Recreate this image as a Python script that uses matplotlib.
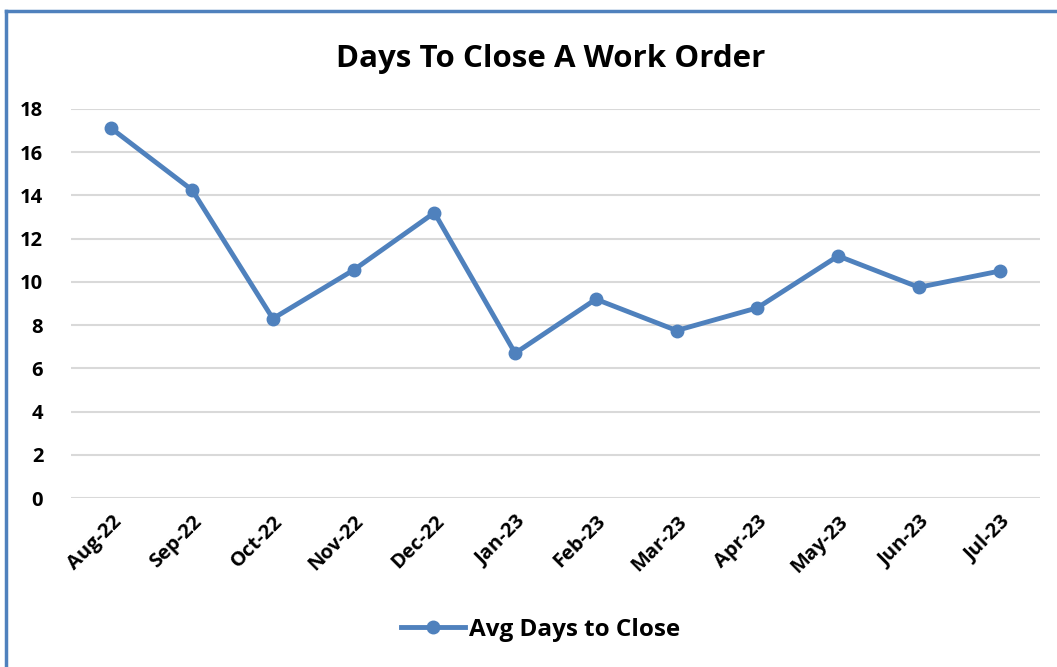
#!/usr/bin/env python

import matplotlib
matplotlib.use("Agg")
import matplotlib.pyplot as plt
from matplotlib.lines import Line2D

months = ['Aug-22', 'Sep-22', 'Oct-22', 'Nov-22', 'Dec-22', 'Jan-23',
          'Feb-23', 'Mar-23', 'Apr-23', 'May-23', 'Jun-23', 'Jul-23']
avg_days = [17.1, 14.25, 8.3, 10.55, 13.2, 6.7, 9.2, 7.75, 8.8, 11.2, 9.75, 10.5]
y_ticks = [0, 2, 4, 6, 8, 10, 12, 14, 16, 18]

plt.rcParams['font.family'] = ['Open Sans', 'DejaVu Sans']
plt.rcParams['font.weight'] = 'bold'

blue = '#4f81bd'
W, H = 1057, 667
fig = plt.figure(figsize=(W / 100.0, H / 100.0), dpi=100)
ax = fig.add_axes([71.0 / W, 1 - 498.0 / H, (1040.0 - 71) / W, (498.0 - 109) / H])

x = list(range(len(months)))
ax.plot(x, avg_days, '-o', color=blue, lw=3.5, ms=9, label='Avg Days to Close')

ax.set_xlim(-0.5, len(months) - 0.5)
ax.set_ylim(0, 18)
ax.set_yticks(y_ticks)
ax.set_xticks(x)
ax.set_xticklabels(months, rotation=45, ha='right', rotation_mode='anchor', fontsize=14.5, fontweight='bold')
ax.tick_params(axis='y', labelsize=14.5, length=0, pad=20)
ax.tick_params(axis='x', length=0, pad=10)
for t in ax.get_yticklabels():
    t.set_fontweight('bold')
ax.grid(True, axis='y', color='#d9d9d9', lw=1.5)
ax.set_axisbelow(True)
for s in ax.spines.values():
    s.set_visible(False)

fig.text(551.0 / W, 1 - 59.0 / H, 'Days To Close A Work Order', ha='center', va='center',
         fontsize=22.5, fontweight='bold')

leg = fig.legend(loc='center', bbox_to_anchor=(541.0 / W, 1 - 630.0 / H), frameon=False,
                 prop={'size': 17.5, 'weight': 'bold'}, handlelength=2.6, handletextpad=0.2)

# chart frame (left and top edges visible)
fig.add_artist(Line2D([6.0 / W, 6.0 / W], [0, 1 - 11.0 / H], color=blue, lw=2.5))
fig.add_artist(Line2D([6.0 / W, 1], [1 - 11.0 / H, 1 - 11.0 / H], color=blue, lw=2.5))

fig.savefig('out.png', dpi=100)
